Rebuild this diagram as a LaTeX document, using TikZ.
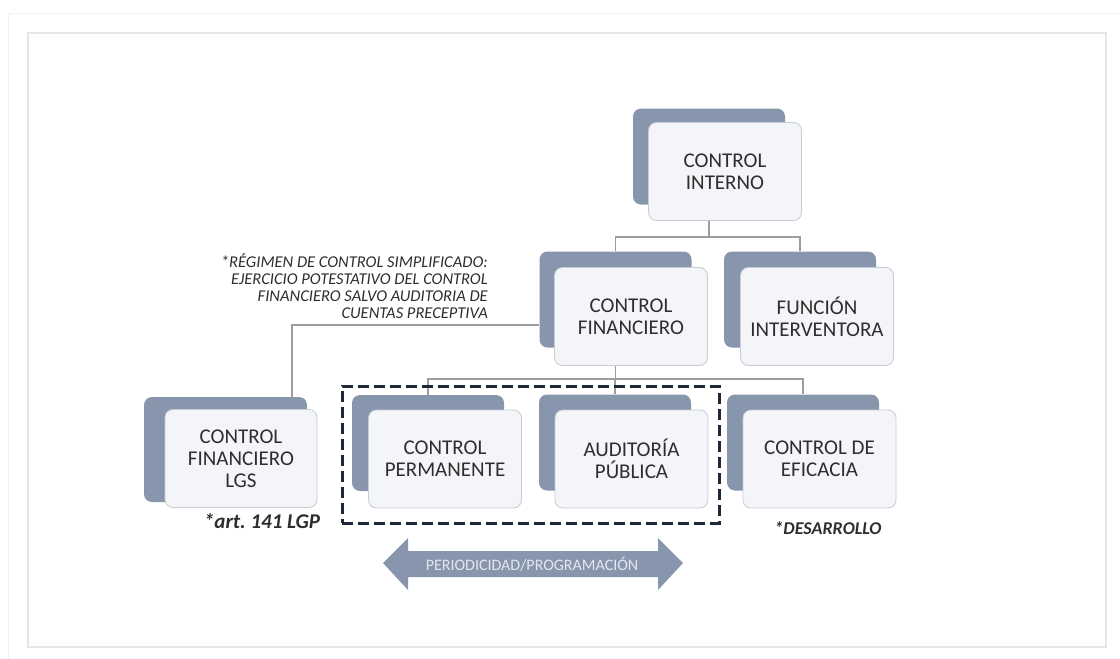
\documentclass[tikz,border=0pt]{standalone}
\usepackage{fontspec}
\setmainfont{Carlito}
\definecolor{backc}{HTML}{8796AD}
\definecolor{frontc}{HTML}{F3F5F8}
\definecolor{edgec}{HTML}{C7CCD4}
\definecolor{txtc}{HTML}{2E2E2E}
\definecolor{linec}{HTML}{9E9E9E}
\definecolor{dashc}{HTML}{1E2836}
\definecolor{framec}{HTML}{E6E6E6}
\definecolor{arrtxt}{HTML}{E2E7EE}
\begin{document}
\frenchspacing
\begin{tikzpicture}[x=1pt,y=-1pt,
  back/.style={draw=none, fill=backc, rounded corners=8pt, minimum width=152pt, minimum height=96pt, inner sep=0pt},
  front/.style={draw=edgec, line width=0.8pt, fill=frontc, rounded corners=8pt, minimum width=153pt, minimum height=98pt, align=center, font=\fontsize{21}{22}\selectfont, text=txtc, inner sep=0pt},
  conn/.style={draw=linec, line width=1.1pt},
  grpbox/.style={draw=dashc, line width=3pt, dash pattern=on 11pt off 5pt, inner sep=0pt},
  note/.style={font=\fontsize{16.5}{16.7}\selectfont\itshape, text=txtc, align=right, inner sep=0pt},
  bnote/.style={font=\fontsize{18}{20}\selectfont\bfseries\itshape, text=txtc, inner sep=0pt},
  arrowtxt/.style={font=\fontsize{16}{18}\selectfont, text=arrtxt, inner sep=0pt}
]
\fill[white] (0,0) rectangle (1120,659);
\useasboundingbox (0,0) rectangle (1120,659);
% faint page frame
\draw[framec!60, line width=1pt] (8,659) -- (8,13) -- (1120,13);
\draw[framec, line width=1.5pt] (28,33) rectangle (1106,647);

% level 1
\node[back] (ciB) at (709,156.5) {};
\node[front] (ci) at (725,171.5) {CONTROL\\INTERNO};
% level 2
\node[back] (cfB) at (615.5,299.5) {};
\node[front] (cf) at (631,316.5) {CONTROL\\FINANCIERO};
\node[back] (fiB) at (800,299.5) {};
\node[front] (fi) at (817,316.5) {FUNCIÓN\\INTERVENTORA};
% level 3
\node[back, minimum width=163pt, minimum height=105pt] (lgsB) at (225.5,449.5) {};
\node[front, minimum width=152pt] (lgs) at (241,458.5) {CONTROL\\FINANCIERO\\LGS};
\node[back] (cpB) at (428,443) {};
\node[front] (cp) at (445,459) {CONTROL\\PERMANENTE};
\node[back] (apB) at (615,442.5) {};
\node[front] (ap) at (631.5,459) {AUDITORÍA\\PÚBLICA};
\node[back] (ceB) at (803,442.5) {};
\node[front] (ce) at (819.5,459) {CONTROL DE\\EFICACIA};

% connectors
\coordinate (j1) at (709,237);
\draw[conn] (ciB.south |- ci.south) -- (j1);
\draw[conn] (cfB.north) |- (j1) -| (fiB.north);
\coordinate (j2) at (616,379);
\draw[conn] (cfB.south |- cf.south) -- (cfB.south |- j2);
\draw[conn] (cpB.north) |- (j2) -| (ceB.north);
\draw[conn] (apB.north) -- (apB.north |- j2);
\coordinate (j3) at (292,325);
\draw[conn] (cfB.west |- j3) -- (j3) -- (j3 |- lgsB.north);

% dashed group
\node[grpbox, minimum width=377pt, minimum height=137pt] (grp) at (530.5,454.5) {};

% arrow
\fill[backc] (383,563) -- (408,538) -- (408,551) -- (658,551) -- (658,538) -- (683,563)
  -- (658,590) -- (658,577) -- (408,577) -- (408,590) -- cycle;
\node[arrowtxt] (arrlbl) at (532,564) {PERIODICIDAD/PROGRAMACIÓN};

% notes
\node[note, anchor=north east] (n1) at (488,254) {*RÉGIMEN DE CONTROL SIMPLIFICADO:\\EJERCICIO POTESTATIVO DEL CONTROL\\FINANCIERO SALVO AUDITORIA DE\\CUENTAS PRECEPTIVA};
\node[bnote, font=\fontsize{21}{23}\selectfont\bfseries\itshape] (n2) at (262,521) {*art. 141 LGP};
\node[bnote] (n3) at (828,528) {*DESARROLLO};
\end{tikzpicture}
\end{document}
